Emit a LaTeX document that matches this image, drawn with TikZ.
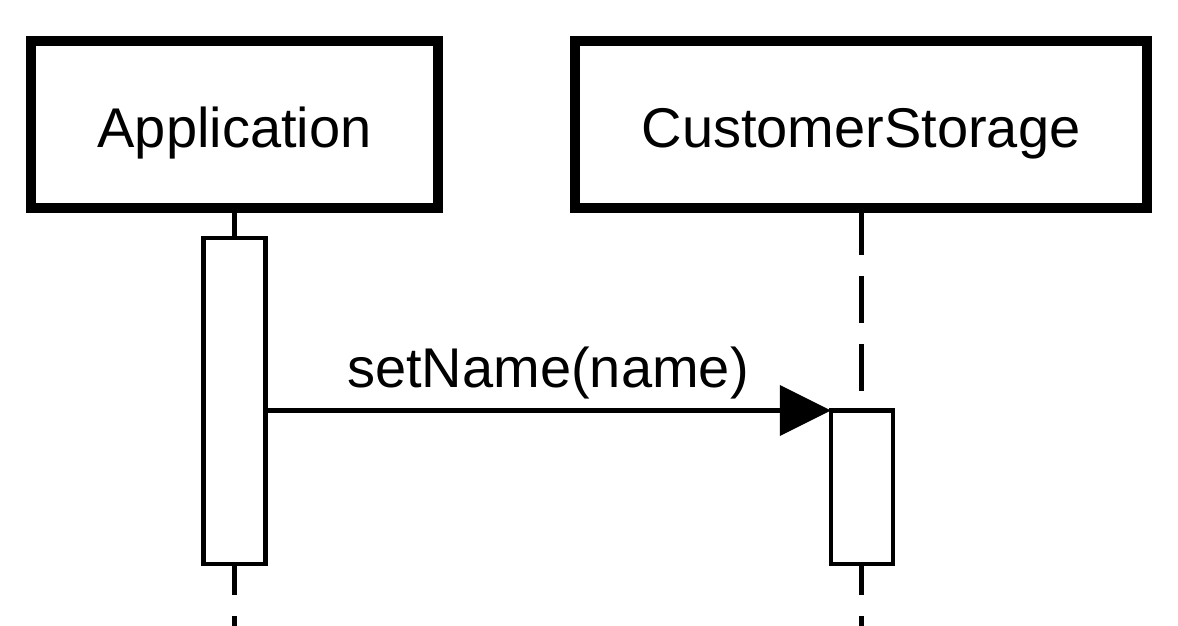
\documentclass[tikz,border=0pt]{standalone}
\usepackage{fontspec}
\setmainfont{Liberation Sans}
\usetikzlibrary{arrows.meta}
\begin{document}
\begin{tikzpicture}[x=1pt,y=-1pt,
  headbox/.style={draw=black, fill=white, line width=10pt, outer sep=0pt, inner sep=0pt,
    minimum height=167pt, text height=57pt, text depth=12pt,
    font=\fontsize{56}{67}\selectfont},
  actbox/.style={draw=black, fill=white, line width=4.5pt, outer sep=0pt, inner sep=0pt,
    minimum width=62pt},
  lifeline/.style={draw=black, line width=5pt, dash pattern=on 47pt off 21pt},
  msg/.style={draw=black, line width=5pt,
    -{Triangle[length=51pt,width=51pt,line width=0pt]}},
  msglabel/.style={anchor=base, yshift=23pt, inner sep=0pt, font=\fontsize{56}{67}\selectfont}]
\useasboundingbox (0,0) rectangle (1178,626);
\node[headbox, minimum width=407pt] (app) at (234.5,124.5) {Application};
\node[headbox, minimum width=571.5pt] (cs) at (861,124.5) {CustomerStorage};
\coordinate (append) at (234.5,640);
\coordinate (csend) at (861,640);
\draw[lifeline] (app.south) -- (append);
\draw[lifeline] (cs.south) -- (csend);
\node[actbox, minimum height=326pt] (act1) at (234.25,401) {};
\node[actbox, minimum height=153.5pt] (act2) at (861.75,487.25) {};
\draw[msg] (act1.east |- act2.north) -- node[msglabel] {setName(name)} (act2.north west);
\end{tikzpicture}
\end{document}
